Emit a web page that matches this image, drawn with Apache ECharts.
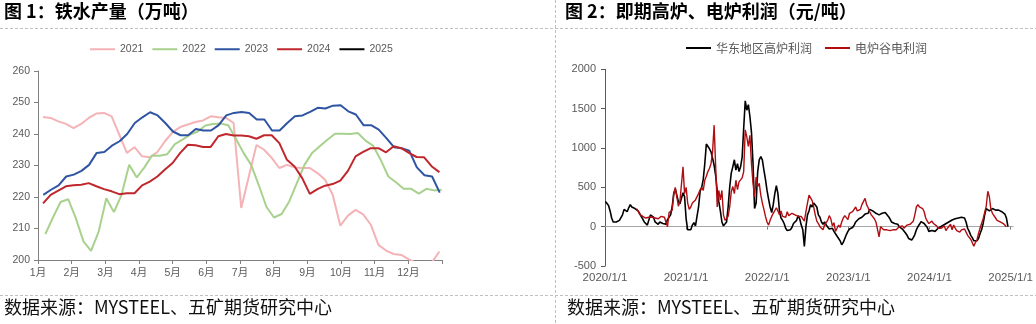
<!DOCTYPE html>
<html>
<head>
<meta charset="utf-8">
<title>铁水产量与高炉、电炉利润</title>
<script src="https://cdn.jsdelivr.net/npm/echarts@6/dist/echarts.min.js"></script>
<style>
  html, body { margin: 0; padding: 0; background: #fff; }
  #chart { width: 1036px; height: 324px; }
</style>
</head>
<body>
<div id="chart"></div>
<script>
// ---------- 图1：铁水产量（万吨），周度数据 ----------
const monthLabels = ['1月', '2月', '3月', '4月', '5月', '6月', '7月', '8月', '9月', '10月', '11月', '12月'];
const yearNames = ['2021', '2022', '2023', '2024', '2025'];
// first weekly reading of each year, counted in weeks from 1 January
const yearFirstWeek = [0.66, 0.96, 0.70, 0.66, 0.66];
const weeksPerYear = 53;

const output2021 = [
  245.4, 245.1, 244.0, 243.2, 241.9, 243.2, 245.1, 246.5, 246.7, 245.6,
  239.8, 234.0, 235.8, 232.9, 232.6, 234.3, 237.7, 240.6, 242.2, 243.0,
  243.8, 244.3, 245.6, 245.3, 245.1, 243.5, 216.5, 226.5, 236.5, 235.0,
  232.4, 229.2, 230.2, 229.4, 229.2, 229.2, 227.6, 225.5, 220.7, 210.9,
  214.1, 215.9, 214.5, 211.2, 204.8, 203.0, 201.9, 201.6, 200.2, 199.0,
  198.5, 199.2, 202.7
];
const output2022 = [
  208.2, 213.5, 218.4, 219.3, 213.3, 205.9, 202.9, 209.0, 219.6, 215.2,
  220.7, 230.2, 226.2, 229.4, 233.2, 233.1, 233.6, 236.8, 238.2, 239.8,
  240.8, 242.7, 243.2, 243.3, 242.8, 238.5, 234.0, 230.2, 223.8, 216.9,
  213.5, 214.6, 218.6, 224.4, 230.2, 234.0, 236.1, 238.2, 240.1, 240.1,
  240.0, 240.3, 237.9, 236.3, 231.8, 226.5, 224.7, 222.6, 222.6, 221.1,
  222.6, 222.1, 222.3
];
const output2023 = [
  220.7, 222.3, 223.7, 226.5, 227.1, 228.3, 230.2, 234.0, 234.3, 236.3,
  237.7, 240.0, 243.5, 245.3, 246.9, 245.9, 243.5, 240.8, 239.6, 239.6,
  241.6, 241.1, 241.1, 242.8, 245.9, 246.7, 247.0, 246.7, 244.6, 244.6,
  241.1, 241.1, 243.5, 245.6, 245.9, 247.0, 248.3, 248.1, 249.0, 249.1,
  247.2, 246.2, 242.8, 242.8, 241.4, 238.7, 235.8, 235.5, 234.7, 229.4,
  226.9, 226.5, 221.4
];
const output2024 = [
  218.0, 220.7, 222.0, 223.4, 223.7, 223.9, 224.4, 223.4, 222.5, 221.8,
  220.9, 221.2, 221.2, 223.7, 224.9, 226.5, 228.7, 230.8, 234.0, 236.6,
  236.4, 235.9, 235.9, 239.3, 240.0, 239.5, 239.5, 239.3, 238.5, 239.6,
  239.6, 237.1, 231.8, 229.7, 226.0, 221.0, 222.5, 223.6, 224.1, 225.2,
  228.3, 232.9, 234.3, 235.5, 235.5, 234.2, 236.1, 235.5, 234.0, 232.7,
  232.6, 229.7, 227.9
];
const output2025 = [];
const outputByYear = [output2021, output2022, output2023, output2024, output2025];
const yearColors = ['#F4B3B6', '#A9D18E', '#2F55A2', '#C0272D', '#000000'];

// ---------- 图2：即期高炉、电炉利润（元/吨），周度数据 ----------
const profitNames = ['华东地区高炉利润', '电炉谷电利润'];
const yearTicks = [2020, 2021, 2022, 2023, 2024, 2025];
const blastStart = '2020-01-03';
const blastProfit = [
  320, 300, 270, 200, 110, 60, 45, 60, 50, 80,
  60, 150, 220, 245, 190, 240, 280, 250, 245, 230,
  240, 200, 170, 130, 100, 60, 35, 20, 40, 150,
  160, 120, 60, 40, 30, 60, 70, 40, 20, 30,
  90, 110, 150, 250, 420, 480, 460, 320, 290, 360,
  430, 380,
  100, -40, -60, -40, 20, 50, 10, 0, 250, 450,
  500, 600, 800, 1050, 1070, 990, 950, 870, 780, 650,
  450, 320, 200, 60, 10, 0, 60, 250, 500, 680,
  760, 850, 720, 800, 700, 760, 880, 1250, 1600, 1480,
  1550, 1400, 1200, 800, 230, 300, 700, 850, 890, 850,
  720, 600,
  460, 350, 250, 180, 280, 420, 520, 420, 200, 110,
  80, 40, -20, -50, -70, -40, -10, 40, 60, 80,
  140, 100, 20, -40, -250, 0, 150, 200, 280, 250,
  300, 320, 250, 150, 120, 60, 30, 60, 20, 0,
  -30, -40, -20, -60, -90, -110, -150, -180, -230, -200,
  -150, -100,
  -60, -30, -20, -10, 20, 60, 80, 100, 90, 120,
  140, 160, 180, 170, 220, 210, 200, 190, 170, 150,
  150, 170, 170, 190, 180, 160, 130, 100, 60, 45,
  40, 40, 30, 0, -20, -30, -50, -80, -110, -150,
  -165, -170, -140, -100, -40, 0, 30, 64, 60, 40,
  20, -10,
  -60, -50, -50, -60, -60, -40, -20, 0, null, null,
  null, null, null, null, null, 85, 70, 100, 90, 110,
  130, 120, 100, 110, 60, -20, -60, -110, -140, -180,
  -195, -180, -150, -90, -40, 40, 150, 230, 210, 200,
  190, 230, 220, 210, 200, 210, 190, 190, 180, 160,
  110, 0
];
const eafStart = '2020-05-22';
const eafProfit = [
  230, 200, 160, 140, 130, 120, 110, 100, 120, 110,
  120, 100, 110, 130, 100, 110, 130, 110, 120, 100,
  0, 180, 200, 210, 400, 500, 490, 260, 320, 300,
  760, 420,
  500, 300, 220, 250, 300, 320, 340, 360, 420, 470,
  500, 460, 590, 640, 700, 740, 800, 950, 1290, 760,
  250, 460, 340, 460, 150, 80, 60, 130, 250, 440,
  510, 420, 590, 470, 570, 550, 620, 700, 1230, 1140,
  1020, 1160, 800, 550, 380, 630, 510, 550, 400, 300,
  220, 130,
  60, 20, 80, 130, 170, 190, 240, 200, 150, 200,
  130, 150, 120, 190, 140, 130, 170, 160, 150, 170,
  130, 150, 130, 100, 70, 190, 300, 400, 420, 330,
  250, 150, 70, 40, 0, -20, -40, 20, 50, 80,
  140, 100, 10, 50, -60, -20, 20, -10, 60, 110,
  140, 150,
  90, 170, 160, 190, 170, 250, 200, 180, 220, 280,
  300, 360, 280, 240, 190, 150, 130, 100, 60, 50,
  -130, 0, 10, -40, -30, -40, -20, -50, -60, -40,
  -30, -40, -20, 0, -10, 10, -20, 0, 20, 10,
  30, 20, 70, 150, 250, 280, 250, 270, 230, 190,
  110, 70,
  40, 60, 70, 40, 50, 10, -20, -40, -20, -40,
  10, -50, -20, 0, 30, -40, 20, -20, -50, -30,
  -70, -40, -60, -30, -70, -110, -130, -160, -180, -250,
  -200, -170, -90, -20, 40, 100, 180, 260, 450, 380,
  220, 170, 160, 110, 80, 70, 60, 50, 40, 20,
  0
];
const profitColors = ['#000000', '#B00E12'];

// ---------- helpers ----------
const DAY = 86400000;
function decimalYear(ms) {
  const d = new Date(ms);
  const y = d.getUTCFullYear();
  const a = Date.UTC(y, 0, 1), b = Date.UTC(y + 1, 0, 1);
  return y + (ms - a) / (b - a);
}
function weeklySeries(startIso, values) {
  const t0 = Date.parse(startIso + 'T00:00:00Z');
  return values.map((v, k) => [decimalYear(t0 + k * 7 * DAY), v]);
}
function monthlyPositions(values, firstWeek) {
  return values.map((v, i) => [(firstWeek + i) * 12 / weeksPerYear, v]);
}

const latin = '"Liberation Sans", Arial, "Noto Sans CJK SC", sans-serif';
const cjk = '"Noto Sans CJK SC", "Liberation Sans", sans-serif';
const labelGrey = '#595959';
const axisGrey = '#808080';

const chart = echarts.init(document.getElementById('chart'), null, { renderer: 'canvas' });

const leftSeries = yearNames.map((name, idx) => ({
  name: name,
  type: 'line',
  xAxisIndex: 0,
  yAxisIndex: 0,
  data: monthlyPositions(outputByYear[idx], yearFirstWeek[idx]),
  showSymbol: false,
  symbol: 'none',
  smooth: false,
  lineStyle: { width: 2, color: yearColors[idx] },
  itemStyle: { color: yearColors[idx] },
  z: 2 + idx
}));

const rightSeries = [
  {
    name: profitNames[0],
    type: 'line',
    xAxisIndex: 1,
    yAxisIndex: 1,
    data: weeklySeries(blastStart, blastProfit),
    connectNulls: true,
    showSymbol: false,
    symbol: 'none',
    lineStyle: { width: 1.6, color: profitColors[0] },
    itemStyle: { color: profitColors[0] },
    z: 3
  },
  {
    name: profitNames[1],
    type: 'line',
    xAxisIndex: 1,
    yAxisIndex: 1,
    data: weeklySeries(eafStart, eafProfit),
    showSymbol: false,
    symbol: 'none',
    lineStyle: { width: 1.4, color: profitColors[1] },
    itemStyle: { color: profitColors[1] },
    z: 4
  }
];

const dash = { stroke: '#BFBFBF', lineWidth: 1, lineDash: [3, 2] };

const option = {
  animation: false,
  backgroundColor: '#ffffff',
  grid: [
    { left: 38, right: 594, top: 71, bottom: 64, containLabel: false },
    { left: 605, right: 18.5, top: 69.3, bottom: 58, containLabel: false }
  ],
  legend: [
    {
      data: yearNames,
      left: 85, top: 39,
      icon: 'rect', itemWidth: 25, itemHeight: 2, itemGap: 9,
      textStyle: { fontFamily: latin, fontSize: 10.5, color: labelGrey }
    },
    {
      data: profitNames,
      left: 681, top: 37,
      icon: 'rect', itemWidth: 25, itemHeight: 2, itemGap: 13,
      textStyle: { fontFamily: cjk, fontSize: 12, color: labelGrey }
    }
  ],
  xAxis: [
    {
      gridIndex: 0, type: 'value', min: 0, max: 12, interval: 1,
      axisLine: { show: true, onZero: false, lineStyle: { color: axisGrey, width: 1 } },
      axisTick: { show: true, length: 4, lineStyle: { color: axisGrey } },
      axisLabel: {
        fontFamily: latin, fontSize: 10.5, color: labelGrey, margin: 8,
        formatter: v => (Number.isInteger(v) && v < 12) ? monthLabels[v] : ''
      },
      splitLine: { show: false }
    },
    {
      gridIndex: 1, type: 'value', min: 2020, max: 2025.03, interval: 1,
      axisLine: { show: false, onZero: false },
      axisTick: { show: false },
      axisLabel: {
        fontFamily: latin, fontSize: 11.5, color: labelGrey, margin: 6,
        customValues: yearTicks,
        formatter: v => v + '/1/1'
      },
      splitLine: { show: false }
    },
    {
      gridIndex: 1, type: 'value', min: 2020, max: 2025.03, interval: 1,
      position: 'bottom',
      axisLine: { show: true, onZero: true, lineStyle: { color: '#A6A6A6', width: 1.2 } },
      axisTick: { show: true, length: 3, customValues: yearTicks.slice(1), lineStyle: { color: '#7F7F7F' } },
      axisLabel: { show: false },
      splitLine: { show: false }
    }
  ],
  yAxis: [
    {
      gridIndex: 0, type: 'value', min: 200, max: 260, interval: 10,
      axisLine: { show: true, lineStyle: { color: axisGrey, width: 1 } },
      axisTick: { show: true, length: 4, lineStyle: { color: axisGrey } },
      axisLabel: { fontFamily: latin, fontSize: 10.5, color: labelGrey, margin: 8 },
      splitLine: { show: false }
    },
    {
      gridIndex: 1, type: 'value', min: -500, max: 2000, interval: 500,
      axisLine: { show: true, lineStyle: { color: '#595959', width: 1 } },
      axisTick: { show: true, length: 4, lineStyle: { color: '#595959' } },
      axisLabel: {
        fontFamily: latin, fontSize: 11, color: labelGrey, margin: 9,
        formatter: v => String(v)
      },
      splitLine: { show: false }
    }
  ],
  series: leftSeries.concat(rightSeries),
  graphic: [
    { type: 'line', silent: true, shape: { x1: 0, y1: 28.5, x2: 1036, y2: 28.5 }, style: dash },
    { type: 'line', silent: true, shape: { x1: 0, y1: 295.5, x2: 1036, y2: 295.5 }, style: dash },
    { type: 'line', silent: true, shape: { x1: 555.5, y1: 0, x2: 555.5, y2: 324 }, style: dash },
    {
      type: 'text', left: 4, top: 2, silent: true,
      style: { text: '图 1：铁水产量（万吨）', font: 'bold 18px ' + cjk, fill: '#000' }
    },
    {
      type: 'text', left: 565, top: 2, silent: true,
      style: { text: '图 2：即期高炉、电炉利润（元/吨）', font: 'bold 18px ' + cjk, fill: '#000' }
    },
    {
      type: 'text', left: 4, top: 298, silent: true,
      style: { text: '数据来源：MYSTEEL、五矿期货研究中心', font: '18px ' + cjk, fill: '#111111' }
    },
    {
      type: 'text', left: 567, top: 298, silent: true,
      style: { text: '数据来源：MYSTEEL、五矿期货研究中心', font: '18px ' + cjk, fill: '#111111' }
    }
  ]
};

chart.setOption(option);
</script>
</body>
</html>
